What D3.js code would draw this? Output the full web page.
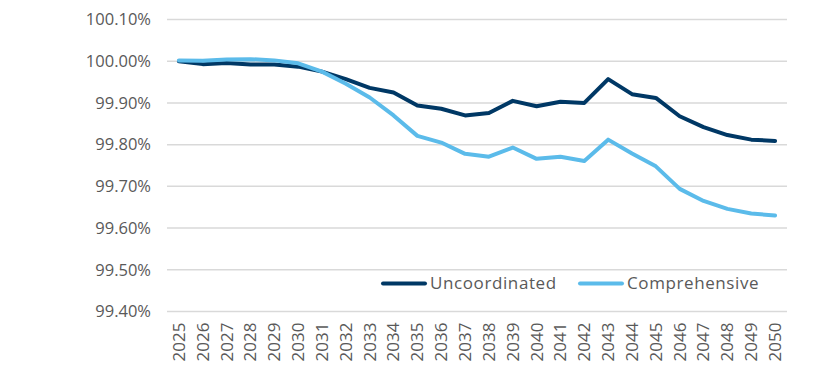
<!DOCTYPE html>
<html>
<head>
<meta charset="utf-8">
<script src="https://cdn.jsdelivr.net/npm/d3@7"></script>
<style>
  body { margin: 0; background: #fff; }
  text { font-family: "Open Sans", Lato, sans-serif; fill: #595959; }
</style>
</head>
<body>
<div id="chart"></div>
<script>
// data
const years = ['2025', '2026', '2027', '2028', '2029', '2030', '2031', '2032', '2033', '2034',
  '2035', '2036', '2037', '2038', '2039', '2040', '2041', '2042', '2043', '2044',
  '2045', '2046', '2047', '2048', '2049', '2050'];
const uncoordinated = [100.000, 99.993, 99.996, 99.992, 99.992, 99.987, 99.975, 99.957, 99.936, 99.925,
  99.894, 99.886, 99.870, 99.876, 99.905, 99.892, 99.903, 99.900, 99.957, 99.921,
  99.912, 99.868, 99.842, 99.823, 99.812, 99.809];
const comprehensive = [100.002, 100.001, 100.004, 100.005, 100.002, 99.995, 99.975, 99.946, 99.913, 99.870,
  99.821, 99.805, 99.778, 99.771, 99.793, 99.766, 99.771, 99.761, 99.812, 99.779,
  99.748, 99.694, 99.665, 99.646, 99.635, 99.630];
const yTicks = [99.4, 99.5, 99.6, 99.7, 99.8, 99.9, 100.0, 100.1];
const seriesNames = ['Uncoordinated', 'Comprehensive'];
const colors = ['#003865', '#5bbbea'];

const width = 827;
const height = 373;
const margin = {top: 19.5, right: 40, bottom: 61.5, left: 167};

const svg = d3.select('#chart')
  .append('svg')
  .attr('width', width)
  .attr('height', height);

const xScale = d3.scaleBand()
  .domain(years)
  .range([margin.left, width - margin.right]);

const yScale = d3.scaleLinear()
  .domain([99.4, 100.1])
  .range([height - margin.bottom, margin.top]);

// gridlines
svg.append('g')
  .selectAll('line')
  .data(yTicks)
  .enter()
  .append('line')
  .attr('x1', margin.left)
  .attr('x2', width - margin.right)
  .attr('y1', d => yScale(d))
  .attr('y2', d => yScale(d))
  .attr('stroke', '#d9d9d9')
  .attr('stroke-width', 1.5);

// y axis labels
const yAxis = d3.axisLeft(yScale)
  .tickValues(yTicks)
  .tickSize(0)
  .tickPadding(16)
  .tickFormat(d => d.toFixed(2) + '%');

const yG = svg.append('g')
  .attr('transform', 'translate(' + margin.left + ',0)')
  .call(yAxis);
yG.select('.domain').remove();
yG.selectAll('text')
  .style('font-size', '16.5px')
  .attr('fill', '#595959');

// x axis labels, rotated
const xAxis = d3.axisBottom(xScale).tickSize(0);

const xG = svg.append('g')
  .attr('transform', 'translate(0,' + (height - margin.bottom) + ')')
  .call(xAxis);
xG.select('.domain').remove();
xG.selectAll('text')
  .style('font-size', '17px')
  .attr('fill', '#595959')
  .attr('transform', 'rotate(-90)')
  .attr('text-anchor', 'end')
  .attr('dy', '0.35em')
  .attr('dx', '-11px')
  .attr('y', 0);

// lines
const line = d3.line()
  .x((d, i) => xScale(years[i]) + xScale.bandwidth() / 2)
  .y(d => yScale(d));

[uncoordinated, comprehensive].forEach(function (s, i) {
  svg.append('path')
    .datum(s)
    .attr('fill', 'none')
    .attr('stroke', colors[i])
    .attr('stroke-width', 4)
    .attr('stroke-linejoin', 'round')
    .attr('stroke-linecap', 'round')
    .attr('d', line);
});

// legend
const legendX = [383, 580];
const legendY = 283.5;
seriesNames.forEach(function (name, i) {
  const g = svg.append('g');
  g.append('line')
    .attr('x1', legendX[i])
    .attr('x2', legendX[i] + 42)
    .attr('y1', legendY)
    .attr('y2', legendY)
    .attr('stroke', colors[i])
    .attr('stroke-width', 4)
    .attr('stroke-linecap', 'round');
  g.append('text')
    .attr('x', legendX[i] + 47)
    .attr('y', legendY)
    .attr('dy', '0.35em')
    .style('font-size', '17px')
    .style('letter-spacing', '0.6px')
    .text(name);
});
</script>
</body>
</html>
